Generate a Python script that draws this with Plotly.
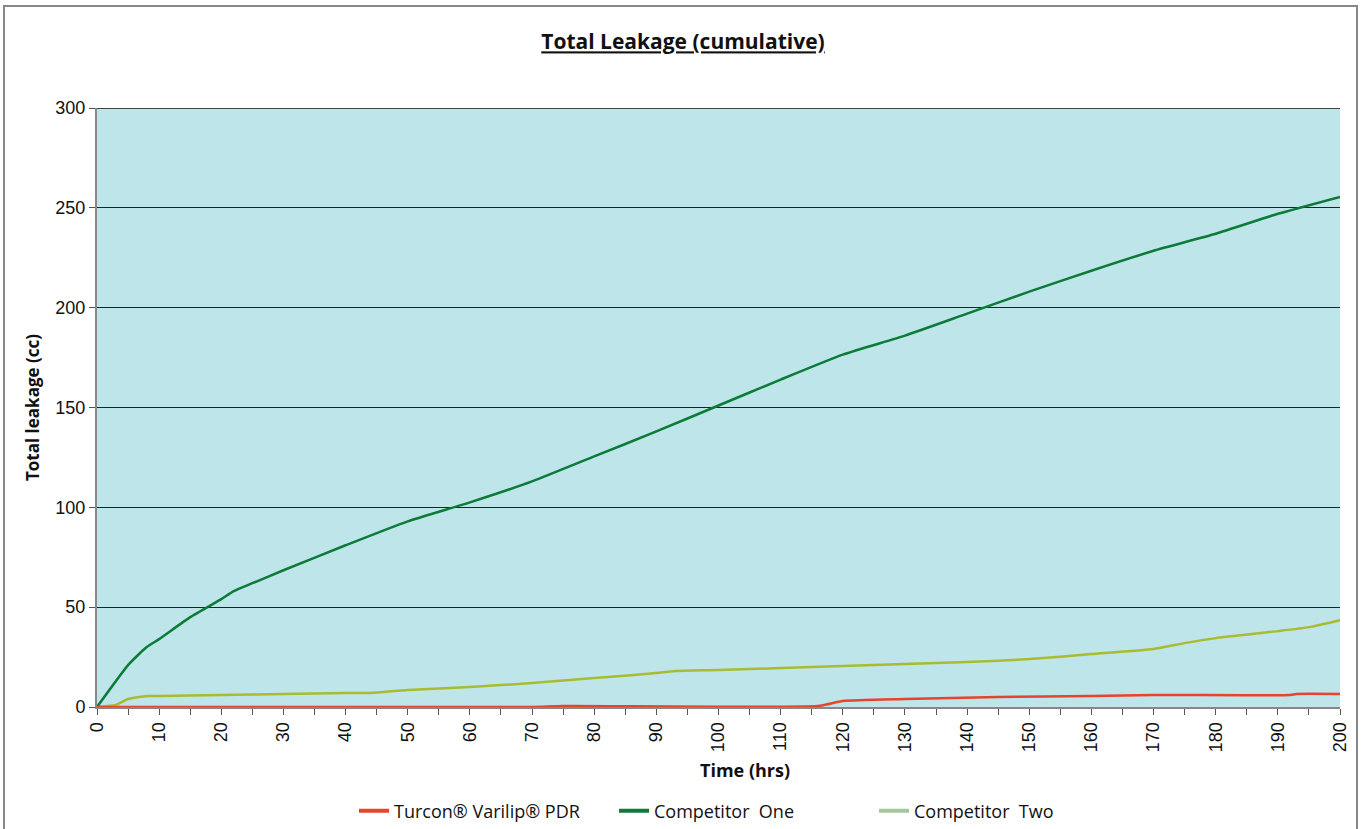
import plotly.graph_objects as go

# Competitor One (dark green)
t_one = [0, 5, 8, 10, 15, 20, 22, 25, 30, 40, 50, 60, 70, 80, 90, 100, 110, 120, 130, 140, 150, 160, 170, 180, 190, 200]
leak_one = [0, 21, 30, 34, 45, 54, 58, 62, 68.5, 81, 93, 102.5, 113, 125.5, 138, 151, 164, 176.5, 186, 197, 208, 218.5, 228.5, 237, 247, 255.5]

# Competitor Two (olive)
t_two = [0, 3, 5, 8, 10, 20, 30, 40, 44, 50, 60, 70, 80, 90, 93, 100, 110, 120, 130, 140, 150, 160, 170, 175, 180, 190, 195, 200]
leak_two = [0, 1, 4, 5.5, 5.5, 6, 6.5, 7, 7, 8.5, 10, 12, 14.5, 17, 18, 18.5, 19.5, 20.5, 21.5, 22.5, 24, 26.5, 29, 32, 34.5, 38, 40, 43.5]

# Turcon Varilip PDR (red)
t_pdr = [0, 70, 75, 116, 120, 130, 145, 160, 170, 192, 193, 200]
leak_pdr = [0, 0, 0.5, 0.5, 3, 4, 5, 5.5, 6, 6, 6.5, 6.5]

names = ["Turcon® Varilip® PDR", "Competitor\u00a0 One", "Competitor\u00a0 Two"]
line_colors = ["#e8432b", "#0b7b37", "#aabb30"]
legend_colors = ["#e8432b", "#0b7b37", "#a3c99c"]

fig = go.Figure()
for x, y, c in [(t_two, leak_two, line_colors[2]), (t_one, leak_one, line_colors[1]), (t_pdr, leak_pdr, line_colors[0])]:
    fig.add_trace(go.Scatter(x=x, y=y, mode="lines", line=dict(color=c, width=2.5, shape="spline", smoothing=0.5),
                             showlegend=False, cliponaxis=False))
for n, c in zip(names, legend_colors):
    fig.add_trace(go.Scatter(x=[None], y=[None], mode="lines", name=n, line=dict(color=c, width=4)))

W0, W1, H0, H1 = 97, 1340, 108, 707
pw, ph = W1 - W0, H1 - H0
lab_font = dict(family="Open Sans, Liberation Sans", size=17, color="#111")

fig.update_layout(
    width=1366, height=829,
    margin=dict(l=W0, r=1366 - W1, t=H0, b=829 - H1, autoexpand=False),
    paper_bgcolor="white",
    plot_bgcolor="#bde5ea",
    font=dict(family="Liberation Sans, Arial", size=18, color="#111"),
    title=dict(text="<b><span style='text-decoration:underline'>Total Leakage (cumulative)</span></b>",
               x=0.5, xanchor="center", y=1 - 42 / 829, yanchor="middle",
               font=dict(family="Open Sans, Liberation Sans", size=21, color="#111")),
    legend=dict(orientation="h", x=(744 - W0) / pw, xanchor="center", y=(H1 - 811) / ph, yanchor="middle",
                font=dict(family="Open Sans, Liberation Sans", size=18, color="#111"),
                entrywidth=215, bgcolor="rgba(0,0,0,0)"),
    xaxis=dict(range=[0, 200], tickmode="linear", tick0=0, dtick=10, tickangle=-90,
               ticks="outside", ticklen=6, tickcolor="#555", automargin=False,
               minor=dict(dtick=5, ticks="outside", ticklen=6, tickcolor="#555"),
               showgrid=False, zeroline=False, showline=True, linecolor="#888", linewidth=2,
               layer="below traces"),
    yaxis=dict(range=[0, 300], tickmode="linear", tick0=0, dtick=50,
               ticks="outside", ticklen=6, tickcolor="#555", automargin=False,
               showgrid=True, gridcolor="#222", gridwidth=1, zeroline=False,
               showline=True, linecolor="#888", linewidth=2, layer="below traces",
               title=dict(text="<b>Total leakage (cc)</b>", standoff=11, font=lab_font)),
)

fig.add_annotation(text="<b>Time (hrs)</b>", xref="paper", yref="paper",
                   x=(745 - W0) / pw, y=(H1 - 770) / ph, xanchor="center", yanchor="middle",
                   showarrow=False, font=dict(family="Open Sans, Liberation Sans", size=18, color="#111"))

# outer frame around the chart
fig.add_shape(type="rect", xref="paper", yref="paper",
              x0=(4 - W0) / pw, x1=(1357 - W0) / pw,
              y0=(H1 - 840) / ph, y1=(H1 - 6) / ph,
              line=dict(color="#888", width=2), fillcolor="rgba(0,0,0,0)", layer="below")
# top gridline at 300
fig.add_shape(type="line", xref="paper", yref="y", x0=0, x1=1, y0=300, y1=300,
              line=dict(color="#444", width=2), layer="below")

fig.write_html("out.html", config={"displayModeBar": False},
               post_script="document.body.style.margin='0';")
